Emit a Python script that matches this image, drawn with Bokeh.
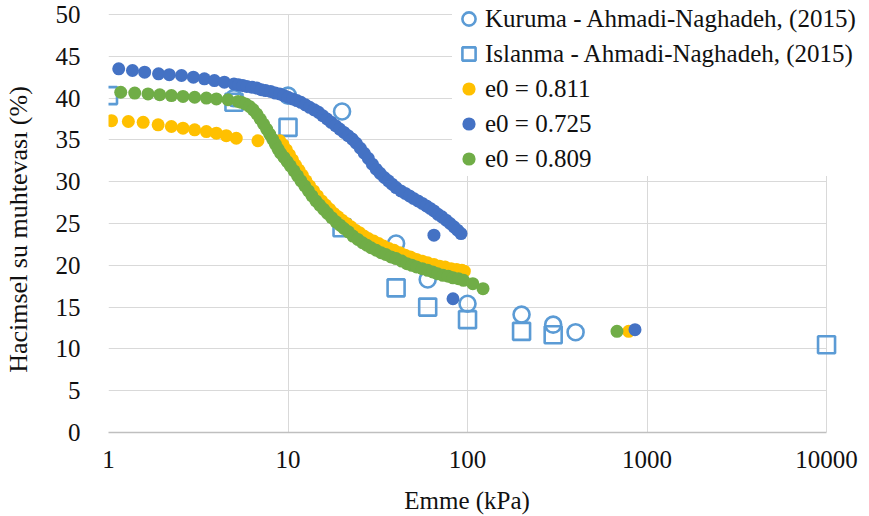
from bokeh.plotting import figure
from bokeh.models import Legend, LegendItem, FixedTicker, Range1d, CustomJSTickFormatter, Grid
from bokeh.embed import file_html
from bokeh.resources import INLINE
import math

# --- data ---
kuruma_x = [5, 10, 20, 40, 60, 100, 200, 300, 400]
kuruma_y = [40.0, 40.3, 38.4, 22.6, 18.3, 15.4, 14.1, 12.9, 12.0]

islanma_x = [1, 5, 10, 20, 40, 60, 100, 200, 300, 10000]
islanma_y = [40.3, 39.5, 36.5, 24.5, 17.3, 15.0, 13.5, 12.1, 11.7, 10.5]

e811_x = [1.04, 1.29, 1.56, 1.89, 2.24, 2.60, 3.02, 3.51, 3.99, 4.53, 5.15, 6.8,
          9.0, 9.4, 9.8, 10.2, 10.6, 11.0, 11.5, 12.0, 12.6, 13.2, 13.9, 14.6, 15.4,
          16.2, 17.1, 18.0, 19.0, 20.0, 21.2, 22.4, 23.7, 25.0, 26.5, 28.0, 30.0,
          32.0, 34.0, 36.5, 39.0, 42.0, 45.0, 48.0, 52.0, 56.0, 60.0, 65.0, 70.0,
          75.0, 81.0, 87.0, 93.0, 96.0, 790]
e811_y = [37.3, 37.2, 37.1, 36.8, 36.6, 36.4, 36.2, 36.0, 35.8, 35.5, 35.2, 34.9,
          34.9, 34.4, 33.8, 33.2, 32.6, 32.0, 31.4, 30.8, 30.1, 29.5, 28.9, 28.3, 27.7,
          27.2, 26.7, 26.2, 25.8, 25.4, 25.0, 24.6, 24.2, 23.9, 23.5, 23.2, 22.9,
          22.6, 22.3, 22.0, 21.8, 21.5, 21.2, 21.0, 20.7, 20.5, 20.3, 20.1, 19.9,
          19.8, 19.6, 19.5, 19.4, 19.3, 12.1]

e725_x = [1.14, 1.36, 1.59, 1.90, 2.18, 2.55, 2.97, 3.42, 3.89, 4.42,
          5.0, 5.3, 5.6, 5.9, 6.3, 6.7, 7.1, 7.5, 8.0, 8.5, 9.0, 9.5, 10.0, 10.6,
          11.2, 11.8, 12.5, 13.2, 14.0, 14.8, 15.6, 16.5, 17.4, 18.4, 19.4, 20.5,
          21.6, 22.8, 24.0, 25.3, 26.6, 28.0, 29.5, 31.0, 32.6, 34.4, 36.2, 38.0,
          40.0, 42.5, 45.0, 47.5, 50.0, 53.0, 56.0, 59.0, 62.0, 65.0, 68.5, 72.0,
          76.0, 80.0, 84.0, 88.0, 92.0,
          65, 83, 857]
e725_y = [43.5, 43.3, 43.1, 42.9, 42.8, 42.7, 42.5, 42.3, 42.1, 41.9,
          41.7, 41.6, 41.5, 41.4, 41.3, 41.2, 41.0, 40.9, 40.8, 40.6, 40.5, 40.3, 40.1, 39.9,
          39.7, 39.5, 39.2, 38.9, 38.6, 38.3, 37.9, 37.5, 37.1, 36.7, 36.3, 35.9,
          35.5, 35.1, 34.6, 34.0, 33.4, 32.8, 32.1, 31.5, 31.0, 30.5, 30.1, 29.7,
          29.3, 28.9, 28.6, 28.3, 28.0, 27.7, 27.4, 27.1, 26.8, 26.5, 26.1, 25.8,
          25.4, 25.0, 24.6, 24.2, 23.8,
          23.6, 16.0, 12.3]

e809_x = [1.17, 1.40, 1.66, 1.93, 2.24, 2.60, 3.02, 3.51, 3.99, 4.63,
          5.27, 5.5, 5.8, 6.1, 6.4, 6.7, 7.0, 7.3, 7.6, 7.9, 8.2, 8.5, 8.8, 9.1,
          9.5, 9.9, 10.3, 10.8, 11.3, 11.8, 12.4, 13.0, 13.6, 14.3, 15.0, 15.8,
          16.6, 17.5, 18.5, 19.5, 20.5, 21.7, 23.0, 24.5, 26.0, 27.5, 29.0, 31.0,
          33.0, 35.0, 37.5, 40.0, 43.0, 46.0, 49.0, 52.0, 56.0, 60.0, 64.0, 68.0,
          73.0, 78.0, 83.0, 89.0, 95.0, 107.0, 122.0, 680]
e809_y = [40.7, 40.6, 40.5, 40.4, 40.3, 40.2, 40.1, 40.0, 39.9, 39.8,
          39.6, 39.5, 39.3, 39.0, 38.6, 38.1, 37.5, 36.9, 36.3, 35.7, 35.1, 34.5, 33.9, 33.4,
          32.9, 32.4, 31.9, 31.3, 30.7, 30.1, 29.5, 28.9, 28.3, 27.7, 27.2, 26.7,
          26.2, 25.7, 25.2, 24.8, 24.4, 24.0, 23.5, 23.1, 22.7, 22.4, 22.1, 21.8,
          21.5, 21.3, 21.0, 20.8, 20.5, 20.2, 20.0, 19.8, 19.6, 19.4, 19.2, 19.0,
          18.8, 18.7, 18.5, 18.4, 18.2, 17.8, 17.2, 12.1]

x_ticks = [1, 10, 100, 1000, 10000]
y_ticks = [0, 5, 10, 15, 20, 25, 30, 35, 40, 45, 50]

labels = ["Kuruma - Ahmadi-Naghadeh, (2015)", "Islanma - Ahmadi-Naghadeh, (2015)",
          "e0 = 0.811", "e0 = 0.725", "e0 = 0.809"]
x_title = "Emme (kPa)"
y_title = "Hacimsel su muhtevası (%)"

FONT = "Liberation Serif"
OPEN_BLUE = "#5B9BD5"
GRID = "#D9D9D9"
NBSP = "\u00a0"

# frame extends past the last tick so the legend (which overlaps the plot) is not clipped
x_end = 10 ** (math.log10(x_ticks[-1]) + 43 / 179.7)
y_end = y_ticks[-1] + 14 / 8.36

p = figure(width=869, height=516, x_axis_type="log", output_backend="svg",
           toolbar_location=None, x_range=Range1d(x_ticks[0], x_end),
           y_range=Range1d(y_ticks[0], y_end),
           min_border_left=107, min_border_right=0, min_border_top=0,
           min_border_bottom=84)
p.outline_line_color = None
p.background_fill_color = "white"
p.xgrid.visible = False
p.ygrid.visible = False

has_cross = "cross_bounds" in Grid.properties()
if has_cross:
    gx = Grid(dimension=0, ticker=FixedTicker(ticks=x_ticks), grid_line_color=GRID,
              cross_bounds=(y_ticks[0], y_ticks[-1]))
    gy = Grid(dimension=1, ticker=FixedTicker(ticks=y_ticks), grid_line_color=GRID,
              cross_bounds=(x_ticks[0], x_ticks[-1]))
    p.add_layout(gx)
    p.add_layout(gy)
else:
    p.segment(x0=x_ticks, x1=x_ticks, y0=[y_ticks[0]] * len(x_ticks),
              y1=[y_ticks[-1]] * len(x_ticks), line_color=GRID, line_width=1)
    p.segment(x0=[x_ticks[0]] * len(y_ticks), x1=[x_ticks[-1]] * len(y_ticks),
              y0=y_ticks, y1=y_ticks, line_color=GRID, line_width=1)

r1 = p.scatter(kuruma_x, kuruma_y, marker="circle", size=16, fill_color=None,
               line_color=OPEN_BLUE, line_width=2.6)
r2 = p.scatter(islanma_x, islanma_y, marker="square", size=17, fill_color=None,
               line_color=OPEN_BLUE, line_width=2.6)
r3 = p.scatter(e811_x, e811_y, marker="circle", size=13, fill_color="#FFC000",
               line_color=None)
r4 = p.scatter(e725_x, e725_y, marker="circle", size=13, fill_color="#4472C4",
               line_color=None)
r5 = p.scatter(e809_x, e809_y, marker="circle", size=13, fill_color="#70AD47",
               line_color=None)

p.xaxis.ticker = FixedTicker(ticks=x_ticks)
p.xaxis.formatter = CustomJSTickFormatter(code="return tick.toFixed(0);")
p.yaxis.ticker = FixedTicker(ticks=y_ticks)
p.xaxis.bounds = (x_ticks[0], x_ticks[-1])
p.yaxis.bounds = (y_ticks[0], y_ticks[-1])

for ax in (p.xaxis[0], p.yaxis[0]):
    ax.major_label_text_font = FONT
    ax.major_label_text_font_size = "25px"
    ax.major_label_text_color = "#111111"
    ax.axis_label_text_font = FONT
    ax.axis_label_text_font_style = "normal"
    ax.axis_label_text_color = "#111111"
    ax.major_tick_line_color = None
    ax.minor_tick_line_color = None

p.xaxis.axis_label_text_font_size = "25px"
p.yaxis.axis_label_text_font_size = "26px"
p.xaxis.axis_line_color = "#BFBFBF"
p.xaxis.axis_line_width = 1.5
p.yaxis.axis_line_color = None
# axis labels are centred on the (widened) frame; trailing no-break spaces
# shift the visible text back to the centre of the tick span
p.xaxis.axis_label = x_title + NBSP * 7
p.yaxis.axis_label = y_title + NBSP * 4
p.xaxis.major_label_standoff = 12
p.xaxis.axis_label_standoff = 16
p.yaxis.major_label_standoff = 22
p.yaxis.axis_label_standoff = 20

legend = Legend(items=[LegendItem(label=labels[0], renderers=[r1]),
                       LegendItem(label=labels[1], renderers=[r2]),
                       LegendItem(label=labels[2], renderers=[r3]),
                       LegendItem(label=labels[3], renderers=[r4]),
                       LegendItem(label=labels[4], renderers=[r5])],
                location=(344, 256), orientation="vertical",
                glyph_width=33, glyph_height=35, label_height=35,
                label_standoff=0, padding=0, margin=0, spacing=0,
                border_line_color=None, background_fill_color="white",
                background_fill_alpha=1.0,
                label_text_font=FONT, label_text_font_size="25px",
                label_text_color="#111111")
p.add_layout(legend)

open("out.html", "w").write(file_html(p, INLINE))
